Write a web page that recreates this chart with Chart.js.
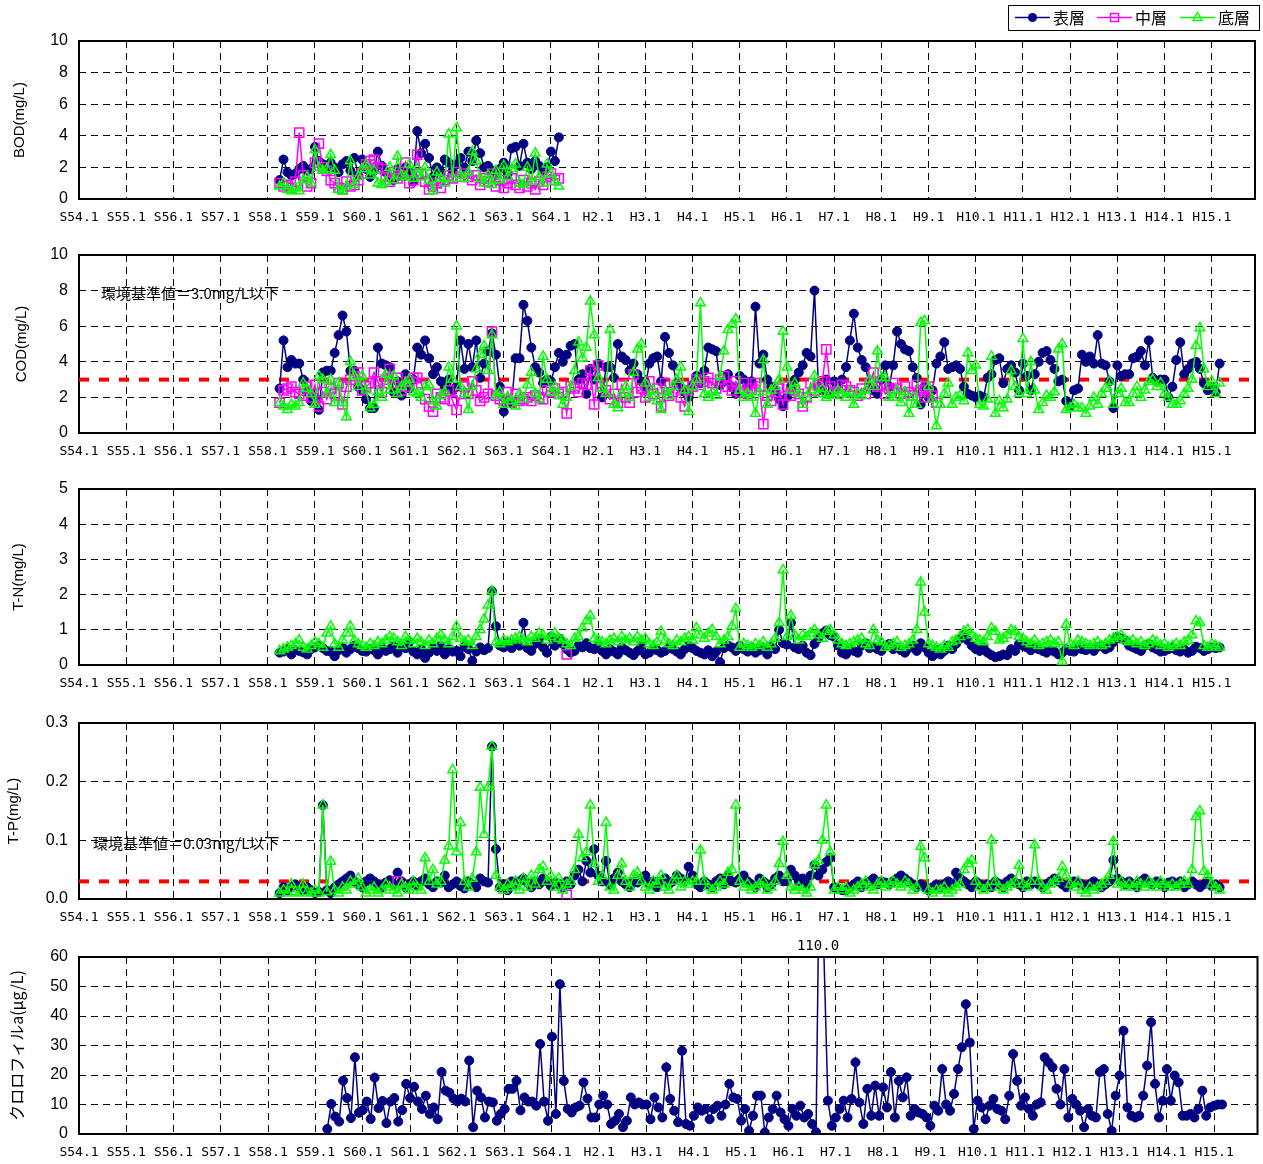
<!DOCTYPE html>
<html>
<head>
<meta charset="utf-8">
<script src="https://cdn.jsdelivr.net/npm/chart.js@4.4.1/dist/chart.umd.min.js"></script>
<style>
  body { margin: 0; background: #fff; }
  #wrap { position: relative; width: 1263px; height: 1164px; background: #fff; }
  #wrap canvas { position: absolute; left: 0; }
</style>
</head>
<body>
<div id="wrap">
  <canvas id="cBod" width="1263" height="233" style="top:0px"></canvas>
  <canvas id="cCod" width="1263" height="234" style="top:233px"></canvas>
  <canvas id="cTn" width="1263" height="232" style="top:467px"></canvas>
  <canvas id="cTp" width="1263" height="234" style="top:699px"></canvas>
  <canvas id="cChl" width="1263" height="231" style="top:933px"></canvas>
</div>
<script>
(function () {
    "use strict";

    // x axis: months counted from S54.1 (Jan 1979)
    var xTickLabels = [ "S54.1", "S55.1", "S56.1", "S57.1", "S58.1", "S59.1", "S60.1", "S61.1", "S62.1",
                        "S63.1", "S64.1", "H2.1", "H3.1", "H4.1", "H5.1", "H6.1", "H7.1", "H8.1", "H9.1",
                        "H10.1", "H11.1", "H12.1", "H13.1", "H14.1", "H15.1" ];
    var seriesNames = [ "表層", "中層", "底層" ];

    var bodTicks = [ 0, 2, 4, 6, 8, 10 ];
    var codTicks = [ 0, 2, 4, 6, 8, 10 ];
    var tnTicks = [ 0, 1, 2, 3, 4, 5 ];
    var tpTicks = [ 0, 0.1, 0.2, 0.3 ];
    var chlTicks = [ 0, 10, 20, 30, 40, 50, 60 ];

    var codStandard = 3.0;
    var tpStandard = 0.03;

    // first month of each series (S58.4 = 51, S59.4 = 63)
    var startMonth = 51;
    var chlStart = 63;

    // one row = one fiscal year, Apr..Mar
    var bodSurface = [
        1.2, 2.5, 1.7, 1.5, 1.6, 1.9, 2.1, 1.8, 1.9, 3.3, 2.4, 2.2,
        1.9, 2.3, 2.0, 1.7, 2.2, 2.4, 1.8, 2.6, 1.5, 2.5, 1.9, 1.4,
        1.8, 3.0, 2.1, 1.7, 1.4, 1.2, 1.9, 1.5, 2.0, 1.7, 1.1, 4.3,
        2.9, 3.5, 2.6, 1.4, 2.0, 1.7, 2.5, 2.3, 1.8, 2.2, 2.6, 2.0,
        3.0, 2.4, 3.7, 2.9, 2.0, 2.1, 1.8, 1.5, 1.9, 2.3, 1.6, 3.2,
        3.3, 2.1, 3.5, 2.3, 1.9, 2.4, 2.1, 1.8, 2.0, 3.0, 2.4, 3.9
    ];
    var bodMiddle = [
        1.0, 0.8, 0.9, 0.7, 1.1, 4.2, 1.5, 0.8, 1.0, 2.3, 3.5, 2.0,
        1.8, 1.2, 1.0, 0.7, 0.6, 1.1, 0.8, 0.9, 1.2, 1.6, 2.2, 2.4,
        2.5, 2.0, 1.9, 1.4, 1.1, 1.7, 1.3, 1.5, 2.3, 1.0, 1.2, 2.8,
        1.6, 1.1, 0.6, 0.8, 1.0, 0.7, 1.2, 1.5, 1.3, 1.7, 1.4, 1.6,
        1.4, 1.2, 1.5, 0.9, 1.3, 1.1, 1.6, 0.8, 1.2, 0.7, 1.0, 1.3,
        0.9, 0.7, 1.2, 0.8, 1.0, 0.6, 1.1, 0.9, 1.4, 1.6, 1.2, 1.3
    ];
    var bodBottom = [
        0.8, 1.0, 0.6, 0.5, 0.7, 0.5, 1.2, 1.4, 1.0, 3.1, 2.0, 1.8,
        1.9, 2.8, 1.8, 0.6, 0.5, 0.8, 2.4, 0.9, 1.4, 1.9, 2.2, 1.5,
        1.8, 1.0, 0.9, 1.1, 2.0, 1.2, 2.7, 1.5, 1.4, 2.2, 1.3, 1.9,
        1.4, 2.0, 1.2, 0.5, 1.7, 1.3, 1.0, 4.1, 1.3, 4.5, 1.5, 1.3,
        1.7, 3.0, 2.4, 1.3, 1.0, 1.5, 0.9, 1.8, 1.2, 2.1, 1.4, 1.9,
        2.2, 1.0, 0.9, 2.0, 1.1, 2.9, 1.4, 1.0, 2.2, 1.6, 1.1, 0.8
    ];

    var codSurface = [
        2.5, 5.2, 3.7, 4.1, 3.9, 3.9, 3.0, 2.3, 1.8, 2.0, 1.3, 3.4,
        3.5, 3.5, 4.5, 5.5, 6.6, 5.7, 3.5, 3.5, 2.6, 2.4, 1.9, 1.4,
        1.4, 4.8, 3.9, 3.8, 3.7, 2.3, 2.9, 2.1, 3.3, 2.5, 3.0, 4.8,
        4.4, 5.2, 4.2, 3.3, 3.7, 2.9, 2.6, 3.0, 2.4, 2.6, 5.2, 3.6,
        5.0, 3.7, 5.2, 3.1, 3.9, 4.6, 5.6, 4.4, 2.6, 1.2, 1.8, 1.7,
        4.2, 4.2, 7.2, 6.3, 4.8, 3.7, 3.4, 2.8, 3.0, 2.9, 3.7, 4.5,
        4.0, 4.4, 4.9, 5.0, 3.0, 3.3, 2.2, 3.6, 3.0, 3.9, 2.0, 3.7,
        3.7, 3.1, 5.0, 4.3, 4.1, 3.5, 3.9, 3.3, 2.9, 2.6, 3.9, 4.2,
        4.3, 2.9, 5.4, 4.5, 3.8, 2.8, 2.5, 2.3, 2.0, 2.7, 3.2, 2.8,
        3.5, 4.8, 4.7, 4.6, 2.7, 2.9, 3.3, 2.6, 2.2, 3.2, 3.0, 2.7,
        2.9, 7.1, 3.9, 4.4, 3.0, 2.6, 2.4, 1.9, 1.5, 2.0, 2.6, 3.0,
        3.4, 3.8, 4.5, 4.3, 8.0, 2.6, 2.4, 3.0, 2.2, 2.9, 2.5, 3.0,
        3.7, 5.2, 6.7, 4.8, 4.1, 3.7, 2.6, 2.4, 2.2, 3.0, 3.8, 2.6,
        3.8, 5.7, 5.0, 4.7, 4.6, 3.7, 3.1, 1.6, 2.6, 2.0, 2.4, 3.9,
        4.3, 5.1, 3.6, 3.7, 3.8, 3.6, 2.6, 2.2, 2.1, 2.0, 2.1, 2.0,
        3.1, 3.3, 4.1, 4.2, 2.8, 3.6, 3.8, 3.4, 2.4, 3.9, 3.2, 2.4,
        3.3, 4.0, 4.5, 4.6, 4.1, 3.6, 2.9, 3.0, 1.8, 1.5, 2.4, 2.5,
        4.4, 4.0, 4.3, 3.9, 5.5, 3.9, 3.8, 2.9, 1.4, 3.8, 3.2, 3.3,
        3.3, 4.2, 4.3, 4.6, 3.8, 5.2, 3.1, 2.9, 3.0, 3.0, 2.0, 2.6,
        4.1, 5.1, 3.3, 3.6, 3.9, 4.0, 3.6, 2.8, 2.4, 2.6, 2.3, 3.9
    ];
    var codMiddle = [
        1.7, 2.4, 2.5, 2.6, 2.3, 2.2, 2.1, 2.6, 2.0, 2.7, 1.5, 2.3,
        1.9, 2.5, 2.2, 2.8, 1.6, 2.6, 3.0, 3.2, 3.4, 2.4, 2.6, 2.8,
        3.4, 2.9, 2.3, 3.0, 3.6, 2.8, 3.1, 2.4, 2.6, 2.9, 3.1, 3.1,
        2.8, 1.9, 1.5, 1.2, 2.2, 2.0, 1.9, 2.4, 1.8, 1.3, 2.2, 2.6,
        2.2, 2.9, 2.4, 1.8, 2.0, 2.2, 5.7, 2.1, 1.9, 1.8, 2.3, 1.7,
        2.2, 1.8, 1.9, 2.0, 1.8, 2.1, 2.0, 1.9, 2.4, 2.3, 2.5, 2.2,
        2.3, 1.1, 2.6, 2.5, 2.3, 2.8, 2.7, 3.5, 1.6, 3.8, 2.6, 2.4,
        1.9, 2.2, 1.7, 2.7, 2.0, 1.7, 3.3, 2.3, 2.5, 2.0, 2.9, 2.2,
        2.5, 1.5, 2.8, 2.1, 2.3, 2.7, 2.0, 1.5, 2.4, 2.6, 3.0, 2.7,
        2.9, 3.1, 2.8, 2.5, 3.0, 3.2, 2.6, 2.4, 2.9, 2.3, 2.8, 2.2,
        2.5, 2.8, 2.6, 0.5, 2.1, 1.8, 2.3, 2.5, 1.6, 2.6, 2.1, 2.4,
        2.2, 1.5, 2.0, 2.8, 2.4, 2.7, 2.9, 4.7, 2.6, 2.3, 2.2, 2.7,
        2.6, 2.4, 2.3, 2.1, 2.5, 2.2, 2.8, 3.4, 2.6, 2.7, 2.2, 2.5,
        2.8, 2.5, 2.2, 2.6, 2.3, 2.1, 2.7, 2.4, 2.0, 2.6, 2.1, 1.7
    ];
    var codBottom = [
        1.7, 1.5, 1.3, 1.6, 1.5, 1.7, 2.8, 2.5, 2.2, 1.6, 3.2, 3.0,
        2.2, 3.0, 1.7, 2.8, 1.7, 0.9, 4.0, 3.2, 2.6, 3.2, 2.4, 1.4,
        1.6, 2.3, 2.0, 3.3, 2.4, 3.2, 2.2, 2.6, 2.8, 3.0, 2.3, 2.2,
        2.0, 2.6, 2.7, 1.8, 1.5, 2.1, 2.3, 3.7, 3.0, 6.0, 2.6, 2.2,
        1.3, 2.6, 3.6, 4.4, 4.9, 3.5, 5.5, 2.1, 2.3, 1.6, 2.0, 1.8,
        1.5, 2.2, 1.9, 2.7, 3.4, 2.2, 1.9, 4.3, 3.0, 2.3, 2.6, 2.1,
        1.6, 2.0, 2.6, 3.5, 5.1, 4.2, 4.8, 7.4, 5.5, 3.1, 2.5, 2.2,
        5.8, 1.6, 1.4, 2.2, 2.6, 2.0, 3.4, 4.7, 5.0, 2.8, 2.0, 2.4,
        1.8, 1.3, 2.3, 2.1, 2.6, 3.0, 3.7, 2.4, 1.2, 2.6, 3.0, 7.3,
        2.2, 2.0, 2.3, 2.1, 3.2, 4.6, 5.8, 6.1, 6.4, 2.4, 2.0, 2.2,
        2.0, 1.1, 2.3, 4.1, 1.6, 2.4, 2.6, 3.0, 5.7, 3.7, 2.4, 2.8,
        2.2, 1.6, 2.0, 2.4, 3.2, 2.2, 2.5, 2.0, 2.1, 2.1, 2.4, 2.2,
        2.0, 2.3, 1.6, 2.2, 2.1, 2.4, 3.0, 2.6, 4.6, 3.1, 3.1, 2.0,
        2.0, 2.4, 1.7, 2.3, 1.1, 2.0, 1.6, 6.2, 6.3, 2.6, 1.9, 0.4,
        1.6, 2.2, 2.8, 1.6, 2.0, 2.1, 1.8, 4.5, 3.5, 3.8, 1.6, 1.5,
        1.9, 4.3, 1.1, 1.8, 1.4, 1.9, 3.5, 2.6, 2.2, 5.3, 2.2, 4.0,
        2.4, 1.3, 1.7, 2.1, 2.0, 2.3, 4.7, 5.0, 1.3, 1.4, 1.6, 1.4,
        1.4, 1.1, 1.5, 2.0, 1.6, 2.2, 2.5, 2.9, 1.6, 2.2, 2.5, 1.7,
        1.7, 2.2, 2.6, 2.0, 2.4, 2.9, 3.0, 2.6, 2.8, 2.2, 2.0, 1.6,
        1.6, 1.8, 2.2, 2.5, 3.0, 4.9, 5.9, 3.6, 2.6, 2.9, 2.2, 2.8
    ];

    var tnSurface = [
        0.35, 0.38, 0.45, 0.30, 0.42, 0.40, 0.36, 0.30, 0.45, 0.50, 0.55, 0.48,
        0.40, 0.38, 0.25, 0.42, 0.50, 0.35, 0.45, 0.55, 0.48, 0.40, 0.38, 0.45,
        0.42, 0.30, 0.48, 0.40, 0.45, 0.52, 0.35, 0.55, 0.48, 0.65, 0.38, 0.30,
        0.45, 0.20, 0.35, 0.48, 0.40, 0.55, 0.30, 0.45, 0.38, 0.40, 0.25, 0.52,
        0.45, 0.12, 0.38, 0.50, 0.42, 0.48, 2.10, 1.10, 0.55, 0.50, 0.65, 0.48,
        0.62, 0.55, 1.20, 0.48, 0.40, 0.60, 0.72, 0.50, 0.35, 0.80, 0.55, 0.75,
        0.60, 0.45, 0.35, 0.40, 0.55, 0.50, 0.62, 0.48, 0.45, 0.55, 0.40, 0.30,
        0.45, 0.38, 0.30, 0.50, 0.42, 0.35, 0.28, 0.40, 0.55, 0.30, 0.35, 0.48,
        0.42, 0.35, 0.40, 0.50, 0.45, 0.38, 0.30, 0.45, 0.55, 0.48, 0.40, 0.35,
        0.30, 0.42, 0.25, 0.38, 0.08, 0.48, 0.55, 0.50, 0.40, 0.55, 0.45, 0.38,
        0.50, 0.35, 0.42, 0.48, 0.30, 0.52, 0.45, 1.00, 0.62, 0.58, 1.20, 0.50,
        0.45, 0.55, 0.35, 0.28, 0.60, 0.75, 0.90, 0.98, 0.85, 0.80, 0.55, 0.35,
        0.30, 0.45, 0.40, 0.35, 0.55, 0.62, 0.48, 0.52, 0.45, 0.40, 0.55, 0.60,
        0.45, 0.50, 0.42, 0.35, 0.48, 0.55, 0.40, 0.62, 0.50, 0.35, 0.25, 0.42,
        0.30, 0.40, 0.55, 0.45, 0.60, 0.75, 0.85, 0.70, 0.55, 0.45, 0.40, 0.50,
        0.35, 0.28, 0.22, 0.25, 0.30, 0.28, 0.45, 0.40, 0.60, 0.55, 0.50, 0.42,
        0.48, 0.45, 0.40, 0.35, 0.42, 0.38, 0.30, 0.35, 0.45, 0.40, 0.38, 0.50,
        0.45, 0.42, 0.48, 0.40, 0.52, 0.55, 0.45, 0.50, 0.65, 0.80, 0.75, 0.70,
        0.55, 0.50, 0.45, 0.40, 0.55, 0.60, 0.50, 0.45, 0.38, 0.40, 0.45, 0.50,
        0.42, 0.38, 0.45, 0.35, 0.40, 0.52, 0.48, 0.40, 0.45, 0.50, 0.48, 0.50
    ];
    var tnMiddleMonths = [ 124 ];
    var tnMiddleValues = [ 0.30 ];
    var tnBottom = [
        0.40, 0.45, 0.50, 0.55, 0.60, 0.70, 0.50, 0.45, 0.55, 0.65, 0.60, 0.50,
        0.90, 1.10, 0.60, 0.50, 0.70, 0.90, 1.10, 0.70, 0.60, 0.55, 0.50, 0.60,
        0.55, 0.65, 0.60, 0.70, 0.80, 0.75, 0.65, 0.55, 0.80, 0.70, 0.60, 0.75,
        0.65, 0.55, 0.70, 0.60, 0.75, 0.85, 0.70, 0.60, 0.80, 1.10, 0.75, 0.65,
        0.70, 0.55, 0.80, 1.00, 1.30, 1.70, 2.10, 0.65, 0.60, 0.70, 0.65, 0.70,
        0.75, 0.80, 0.70, 0.65, 0.80, 0.75, 0.90, 0.85, 0.70, 0.80, 0.90, 0.75,
        0.70, 0.60, 0.55, 0.75, 0.80, 1.05, 1.25, 1.40, 0.75, 0.70, 0.65, 0.60,
        0.70, 0.75, 0.65, 0.80, 0.70, 0.75, 0.65, 0.80, 0.70, 0.75, 0.60, 0.55,
        0.65, 0.95, 0.70, 0.60, 0.55, 0.70, 0.65, 0.75, 0.80, 0.70, 1.05, 0.85,
        0.75, 0.90, 1.00, 0.80, 0.60, 0.70, 0.80, 1.10, 1.60, 0.50, 0.60, 0.55,
        0.50, 0.60, 0.55, 0.65, 0.50, 0.60, 0.75, 1.20, 2.70, 0.80, 1.40, 0.85,
        0.70, 0.85, 0.80, 0.90, 1.00, 0.85, 0.75, 0.95, 1.00, 0.85, 0.70, 0.60,
        0.55, 0.60, 0.65, 0.70, 0.75, 0.60, 0.55, 1.00, 0.70, 0.65, 0.50, 0.55,
        0.60, 0.65, 0.50, 0.55, 0.60, 0.70, 1.00, 2.35, 1.50, 0.60, 0.55, 0.50,
        0.45, 0.55, 0.50, 0.65, 0.70, 0.80, 0.95, 1.00, 0.85, 0.75, 0.70, 0.65,
        0.80, 1.05, 0.95, 0.70, 0.75, 0.85, 1.00, 0.95, 0.80, 0.75, 0.65, 0.60,
        0.70, 0.55, 0.60, 0.65, 0.70, 0.60, 0.65, 0.10, 1.15, 0.60, 0.55, 0.70,
        0.65, 0.60, 0.55, 0.60, 0.65, 0.55, 0.60, 0.70, 0.75, 0.80, 0.85, 0.70,
        0.65, 0.70, 0.60, 0.65, 0.55, 0.60, 0.70, 0.65, 0.55, 0.60, 0.50, 0.55,
        0.60, 0.55, 0.65, 0.70, 0.85, 1.25, 1.20, 0.55, 0.50, 0.60, 0.55, 0.50
    ];

    var tpSurface = [
        0.010, 0.020, 0.015, 0.020, 0.025, 0.020, 0.015, 0.020, 0.015, 0.010, 0.012, 0.160,
        0.015, 0.010, 0.020, 0.025, 0.030, 0.035, 0.040, 0.030, 0.025, 0.020, 0.030, 0.035,
        0.030, 0.025, 0.020, 0.028, 0.032, 0.025, 0.045, 0.030, 0.020, 0.025, 0.030, 0.022,
        0.030, 0.035, 0.025, 0.020, 0.030, 0.028, 0.040, 0.020, 0.025, 0.030, 0.022, 0.018,
        0.030, 0.025, 0.020, 0.035, 0.030, 0.028, 0.260, 0.085, 0.020, 0.025, 0.015, 0.030,
        0.025, 0.030, 0.035, 0.028, 0.020, 0.030, 0.025, 0.035, 0.030, 0.022, 0.028, 0.025,
        0.020, 0.030, 0.025, 0.040, 0.050, 0.030, 0.065, 0.045, 0.085, 0.040, 0.030, 0.065,
        0.025, 0.035, 0.045, 0.030, 0.025, 0.020, 0.030, 0.028, 0.035, 0.040, 0.025, 0.030,
        0.020, 0.030, 0.035, 0.025, 0.030, 0.040, 0.035, 0.030, 0.055, 0.040, 0.025, 0.020,
        0.030, 0.025, 0.020, 0.030, 0.035, 0.025, 0.040, 0.030, 0.028, 0.035, 0.040, 0.030,
        0.025, 0.020, 0.035, 0.030, 0.020, 0.025, 0.035, 0.040, 0.030, 0.030, 0.050, 0.040,
        0.030, 0.035, 0.025, 0.040, 0.058, 0.040, 0.050, 0.063, 0.070, 0.020, 0.018, 0.015,
        0.015, 0.020, 0.025, 0.030, 0.020, 0.025, 0.030, 0.035, 0.025, 0.030, 0.028, 0.025,
        0.030, 0.035, 0.040, 0.035, 0.030, 0.025, 0.020, 0.025, 0.020, 0.015, 0.020, 0.025,
        0.020, 0.025, 0.030, 0.025, 0.045, 0.035, 0.030, 0.025, 0.020, 0.030, 0.025, 0.020,
        0.025, 0.020, 0.030, 0.025, 0.020, 0.030, 0.035, 0.028, 0.025, 0.020, 0.030, 0.025,
        0.030, 0.025, 0.020, 0.025, 0.030, 0.035, 0.030, 0.025, 0.020, 0.025, 0.030, 0.028,
        0.025, 0.020, 0.025, 0.030, 0.025, 0.020, 0.025, 0.030, 0.066, 0.035, 0.030, 0.025,
        0.030, 0.025, 0.020, 0.030, 0.035, 0.028, 0.025, 0.030, 0.025, 0.020, 0.028, 0.030,
        0.025, 0.030, 0.020, 0.025, 0.030, 0.025, 0.020, 0.025, 0.030, 0.022, 0.025, 0.020
    ];
    var tpMiddleMonths = [ 81, 124 ];
    var tpMiddleValues = [ 0.030, 0.007 ];
    var tpBottom = [
        0.010, 0.015, 0.010, 0.025, 0.012, 0.010, 0.025, 0.012, 0.010, 0.015, 0.010, 0.160,
        0.012, 0.064, 0.015, 0.010, 0.020, 0.015, 0.030, 0.025, 0.035, 0.020, 0.010, 0.015,
        0.020, 0.010, 0.015, 0.025, 0.020, 0.015, 0.010, 0.025, 0.020, 0.015, 0.030, 0.020,
        0.015, 0.070, 0.030, 0.050, 0.025, 0.030, 0.066, 0.090, 0.220, 0.080, 0.130, 0.030,
        0.020, 0.035, 0.080, 0.190, 0.110, 0.190, 0.260, 0.040, 0.020, 0.015, 0.025, 0.020,
        0.030, 0.015, 0.035, 0.020, 0.040, 0.025, 0.050, 0.055, 0.030, 0.040, 0.020, 0.035,
        0.015, 0.025, 0.030, 0.050, 0.110, 0.070, 0.080, 0.160, 0.060, 0.030, 0.040, 0.130,
        0.020, 0.015, 0.040, 0.060, 0.030, 0.020, 0.040, 0.045, 0.030, 0.020, 0.015, 0.030,
        0.025, 0.040, 0.020, 0.015, 0.030, 0.040, 0.020, 0.030, 0.025, 0.030, 0.030, 0.083,
        0.030, 0.020, 0.015, 0.020, 0.030, 0.025, 0.045, 0.050, 0.160, 0.030, 0.020, 0.025,
        0.015, 0.020, 0.025, 0.030, 0.015, 0.020, 0.030, 0.060, 0.098, 0.040, 0.020, 0.015,
        0.020, 0.015, 0.010, 0.020, 0.058, 0.065, 0.100, 0.160, 0.080, 0.015, 0.020, 0.015,
        0.020, 0.010, 0.015, 0.020, 0.025, 0.030, 0.020, 0.015, 0.025, 0.030, 0.020, 0.025,
        0.030, 0.025, 0.020, 0.030, 0.025, 0.015, 0.020, 0.089, 0.070, 0.015, 0.010, 0.015,
        0.015, 0.020, 0.010, 0.015, 0.020, 0.025, 0.050, 0.060, 0.066, 0.030, 0.020, 0.015,
        0.020, 0.100, 0.030, 0.020, 0.015, 0.020, 0.025, 0.030, 0.057, 0.025, 0.020, 0.030,
        0.092, 0.030, 0.020, 0.015, 0.025, 0.030, 0.035, 0.055, 0.040, 0.025, 0.020, 0.030,
        0.015, 0.010, 0.020, 0.015, 0.020, 0.025, 0.030, 0.040, 0.098, 0.025, 0.030, 0.020,
        0.025, 0.020, 0.030, 0.025, 0.020, 0.030, 0.025, 0.020, 0.030, 0.025, 0.020, 0.025,
        0.020, 0.025, 0.030, 0.025, 0.050, 0.140, 0.150, 0.047, 0.040, 0.025, 0.020, 0.015
    ];

    // chlorophyll a, surface only, from S59.4; null = no sample
    var chlSurface = [
        1.7, 10.2, 5.9, 4.2, 18.1, 12.2, 5.4, 26, 7.2, 8.1, 11, 5.1,
        19.1, 8.8, 11.2, 3.7, 11, 12.2, 4.2, 8.1, 17, 12.2, 16, 11,
        8.5, 13, 6.8, 9, 5, 21, 14.7, 14, 12, 11, 12, 11,
        24.9, 2.3, 14.7, 12.4, 5.6, 11, 10.7, 4.5, 6.8, 8.5, 15.3, 15.3,
        18, 8, 12.4, 11, 11, 9.6, 30.5, 11, 4.5, 33, 6.8, 50.8,
        18, 8.5, 7.3, 9, 9.6, 17.5, 12, 5.6, 5.6, 10, 13, 10,
        3.4, 4.5, 6.8, 2.3, 4.5, 12.4, 10, 10.7, 10, 10, 5, 12.4,
        9, 5.6, 22.6, 11.9, 7.9, 4, 28.2, 3.4, 2.8, 6.2, 9, 7.9,
        8.5, 5, 8.5, 9.6, 6.2, 10, 17, 12.4, 11.9, 4.5, 8.5, 1.1,
        6.2, 13, 13, 0.5, 5.6, 8.5, 13, 7.3, 5, 2.8, 8.5, 6.2,
        9.6, 5.6, 6.8, 3.4, 0.6, 110.0, null, 11.3, 2.8, 5.6, 8.5, 11.3,
        5.6, 11.9, 24.3, 10.7, 3.4, 15.3, 6.2, 16.4, 6.2, 15.8, 9, 21,
        5.6, 18, 12.4, 19.2, 6.2, 8.5, 7.3, 6.8, 5.6, 2.8, 9.6, 7.9,
        22, 10, 7.9, 13.6, 22, 29.4, 44, 31, 1.7, 11.3, 9, 5,
        9.6, 11.9, 8.5, 7.9, 5, 13, 27.1, 18, 9.6, 12.4, 8.5, 6.2,
        10, 10.7, 26, 24.3, 22.6, 15.3, 10, 22, 5.6, 11.9, 10, 7.9,
        2.3, 8.5, 6.2, 5.6, 21, 22, 6.8, 1.1, 13, 19.8, 35, 9,
        6.2, 5.6, 6.2, 13, 23.2, 37.9, 17, 5.6, 11.3, 22, 11.3, 19.8,
        17.5, 6.2, 6.2, 6.8, 5.6, 8.5, 14.7, 6.2, 9, 9.6, 10, 10
    ];

    var navy = "#000080", magenta = "#FF00FF", lime = "#00FF00";

    function monthly(values, start) {
        return values.map(function (v, i) { return { x: start + i, y: v }; });
    }
    function sparse(months, values) {
        return months.map(function (m, i) { return { x: m, y: values[i] }; });
    }

    function surfaceSet(points) {
        return { label: seriesNames[0], data: points, order: 3, borderColor: navy, backgroundColor: navy,
                 borderWidth: 1.5, pointStyle: "circle", pointRadius: 4.5, pointBorderWidth: 1,
                 pointBackgroundColor: navy, pointBorderColor: navy, tension: 0, spanGaps: true };
    }
    function middleSet(points, lone) {
        return { label: seriesNames[1], data: points, order: 2, borderColor: magenta,
                 backgroundColor: "rgba(0,0,0,0)", borderWidth: 1.5, pointStyle: "rect", pointRadius: 6.5,
                 pointBorderWidth: 1.5, pointBackgroundColor: "rgba(0,0,0,0)", pointBorderColor: magenta,
                 tension: 0, showLine: !lone };
    }
    function bottomSet(points) {
        return { label: seriesNames[2], data: points, order: 1, borderColor: lime,
                 backgroundColor: "rgba(0,0,0,0)", borderWidth: 1.5, pointStyle: "triangle", pointRadius: 5.5,
                 pointBorderWidth: 1.5, pointBackgroundColor: "rgba(0,0,0,0)", pointBorderColor: lime,
                 tension: 0 };
    }
    function standardSet(value) {
        return { label: "std", data: [ { x: 0, y: value }, { x: 299, y: value } ], order: 4,
                 borderColor: "#FF0000", borderWidth: 4, borderDash: [ 10, 10 ], pointRadius: 0, tension: 0 };
    }

    function drawMarker(ctx, style, color, x, y) {
        ctx.save();
        ctx.strokeStyle = color;
        ctx.fillStyle = color;
        ctx.lineWidth = 1.5;
        ctx.beginPath();
        if (style === "circle") {
            ctx.arc(x, y, 4.5, 0, Math.PI * 2);
            ctx.fill();
        } else if (style === "rect") {
            ctx.strokeRect(x - 4, y - 4, 8, 8);
        } else {
            ctx.moveTo(x, y - 5);
            ctx.lineTo(x + 4.5, y + 3);
            ctx.lineTo(x - 4.5, y + 3);
            ctx.closePath();
            ctx.stroke();
        }
        ctx.restore();
    }

    function drawLegend(ctx) {
        var items = [ { x: 1015, color: navy, style: "circle" },
                      { x: 1097, color: magenta, style: "rect" },
                      { x: 1180, color: lime, style: "triangle" } ];
        ctx.save();
        ctx.strokeStyle = "#000";
        ctx.lineWidth = 1;
        ctx.strokeRect(1008.5, 5.5, 251, 25);
        items.forEach(function (it, i) {
            ctx.strokeStyle = it.color;
            ctx.lineWidth = 1.5;
            ctx.beginPath();
            ctx.moveTo(it.x, 17.5);
            ctx.lineTo(it.x + 35, 17.5);
            ctx.stroke();
            drawMarker(ctx, it.style, it.color, it.x + 17.5, 17.5);
            ctx.fillStyle = "#000";
            ctx.font = '16px "Noto Sans CJK JP"';
            ctx.textAlign = "left";
            ctx.textBaseline = "middle";
            ctx.fillText(seriesNames[i], it.x + 38, 18);
        });
        ctx.restore();
    }

    var decor = {
        id: "decor",
        beforeDatasetsDraw: function (chart) {
            var a = chart.chartArea, ctx = chart.ctx;
            ctx.save();
            ctx.strokeStyle = "#000";
            ctx.lineWidth = 2;
            ctx.strokeRect(a.left, a.top, a.right - a.left, a.bottom - a.top);
            ctx.restore();
        },
        afterDraw: function (chart, args, o) {
            var a = chart.chartArea, ctx = chart.ctx;
            ctx.save();
            ctx.fillStyle = "#000";
            ctx.translate(o.titleX, (a.top + a.bottom) / 2);
            ctx.rotate(-Math.PI / 2);
            ctx.font = o.titleFont;
            ctx.textAlign = "center";
            ctx.textBaseline = "middle";
            ctx.fillText(o.title, 0, 0);
            ctx.restore();

            if (o.note) {
                ctx.save();
                ctx.fillStyle = "#000";
                ctx.font = '15px "Noto Sans CJK JP"';
                ctx.textAlign = "left";
                ctx.textBaseline = "middle";
                ctx.fillText(o.note.text, a.left + o.note.dx, a.top + o.note.dy);
                ctx.restore();
            }
            if (o.offScale) {
                // values above the axis maximum get their number printed over the frame
                var ys = chart.scales.y, xs = chart.scales.x;
                chart.data.datasets[0].data.forEach(function (p) {
                    if (p.y !== null && p.y > ys.max) {
                        ctx.save();
                        ctx.fillStyle = "#000";
                        ctx.font = '14px "DejaVu Sans Mono", monospace';
                        ctx.textAlign = "center";
                        ctx.textBaseline = "middle";
                        ctx.fillText(p.y.toFixed(1), xs.getPixelForValue(p.x) - 2, a.top - 11);
                        ctx.restore();
                    }
                });
            }
            if (o.legend) drawLegend(ctx);
        }
    };

    function makeChart(id, cfg) {
        var gridOpts = { color: "#000", lineWidth: 1, drawTicks: false };
        var borderOpts = { display: false, dash: [ 7, 5 ] };
        return new Chart(document.getElementById(id), {
            type: "line",
            data: { datasets: cfg.datasets },
            options: {
                responsive: false,
                animation: false,
                devicePixelRatio: 1,
                layout: { padding: { top: cfg.padTop, right: 5, bottom: 0, left: 0 } },
                plugins: {
                    legend: { display: false },
                    tooltip: { enabled: false },
                    decor: { title: cfg.title, titleX: cfg.titleX, titleFont: cfg.titleFont,
                             note: cfg.note, offScale: cfg.offScale, legend: cfg.legend }
                },
                scales: {
                    x: {
                        type: "linear", min: 0, max: 299,
                        afterBuildTicks: function (s) {
                            s.ticks = xTickLabels.map(function (_, i) { return { value: i * 12 }; });
                        },
                        afterFit: function (s) {
                            s.height = cfg.axisH;
                            s.paddingLeft = 0;
                            s.paddingRight = 0;
                        },
                        grid: gridOpts, border: borderOpts,
                        ticks: { padding: 11, maxRotation: 0, autoSkip: false, color: "#000",
                                 font: { family: '"DejaVu Sans Mono", monospace', size: 13 },
                                 callback: function (v) { return xTickLabels[Math.round(v / 12)]; } }
                    },
                    y: {
                        min: 0, max: cfg.ticks[cfg.ticks.length - 1],
                        afterBuildTicks: function (s) {
                            s.ticks = cfg.ticks.map(function (v) { return { value: v }; });
                        },
                        afterFit: function (s) {
                            s.width = 79;
                            s.paddingTop = 0;
                            s.paddingBottom = 0;
                        },
                        grid: gridOpts, border: borderOpts,
                        ticks: { padding: 11, color: "#000",
                                 font: { family: '"Liberation Sans", Arial, sans-serif', size: 16 },
                                 callback: cfg.fmt || function (v) { return String(v); } }
                    }
                }
            },
            plugins: [ decor ]
        });
    }

    var latinTitle = '15px "Liberation Sans", Arial, sans-serif';

    makeChart("cBod", {
        padTop: 41, axisH: 34, ticks: bodTicks, title: "BOD(mg/L)", titleX: 20, titleFont: latinTitle,
        legend: true,
        datasets: [ surfaceSet(monthly(bodSurface, startMonth)),
                    middleSet(monthly(bodMiddle, startMonth)),
                    bottomSet(monthly(bodBottom, startMonth)) ]
    });

    makeChart("cCod", {
        padTop: 22, axisH: 34, ticks: codTicks, title: "COD(mg/L)", titleX: 22, titleFont: latinTitle,
        note: { text: "環境基準値＝3.0mg/L以下", dx: 22, dy: 38 },
        datasets: [ surfaceSet(monthly(codSurface, startMonth)),
                    middleSet(monthly(codMiddle, startMonth)),
                    bottomSet(monthly(codBottom, startMonth)),
                    standardSet(codStandard) ]
    });

    makeChart("cTn", {
        padTop: 22, axisH: 34, ticks: tnTicks, title: "T-N(mg/L)", titleX: 19, titleFont: latinTitle,
        datasets: [ surfaceSet(monthly(tnSurface, startMonth)),
                    middleSet(sparse(tnMiddleMonths, tnMiddleValues), true),
                    bottomSet(monthly(tnBottom, startMonth)) ]
    });

    makeChart("cTp", {
        padTop: 24, axisH: 34, ticks: tpTicks, title: "T-P(mg/L)", titleX: 14, titleFont: latinTitle,
        fmt: function (v) { return v.toFixed(1); },
        note: { text: "環境基準値＝0.03mg/L以下", dx: 14, dy: 120 },
        datasets: [ surfaceSet(monthly(tpSurface, startMonth)),
                    middleSet(sparse(tpMiddleMonths, tpMiddleValues), true),
                    bottomSet(monthly(tpBottom, startMonth)),
                    standardSet(tpStandard) ]
    });

    makeChart("cChl", {
        padTop: 24, axisH: 30, ticks: chlTicks, title: "クロロフィルa(μg/L)", titleX: 17,
        titleFont: '16px "Noto Sans CJK JP"', offScale: true,
        datasets: [ surfaceSet(monthly(chlSurface, chlStart)) ]
    });

})();
</script>
</body>
</html>
